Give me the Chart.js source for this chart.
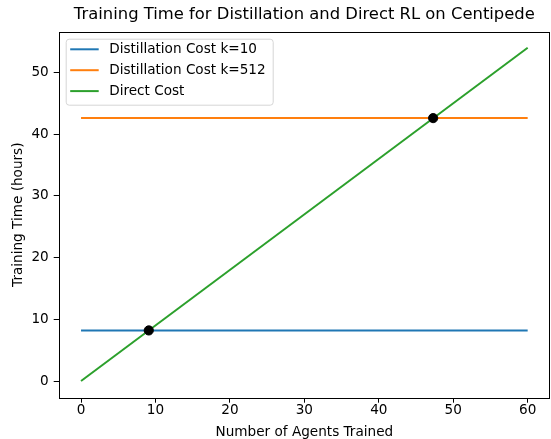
<!DOCTYPE html>
<html>
<head>
<meta charset="utf-8">
<script src="https://cdn.jsdelivr.net/npm/chart.js@4"></script>
<style>
  html, body { margin: 0; padding: 0; background: #fff; }
  #wrap { width: 551px; height: 439px; }
</style>
</head>
<body>
<div id="wrap"><canvas id="chart" width="551" height="439"></canvas></div>
<script>
'use strict';

const agents = [0, 60];
const distillK10 = [8.2, 8.2];
const distillK512 = [42.6, 42.6];
const directCost = [0, 54];
const crossings = [
  { x: 9.1, y: 8.2 },
  { x: 47.3, y: 42.6 },
];
const xTicks = [0, 10, 20, 30, 40, 50, 60];
const yTicks = [0, 10, 20, 30, 40, 50];

const FONT = "'DejaVu Sans', sans-serif";
const colors = { k10: '#1f77b4', k512: '#ff7f0e', direct: '#2ca02c' };

const toPoints = (ys) => agents.map((x, i) => ({ x, y: ys[i] }));

const frameAndLegend = {
  id: 'frameAndLegend',
  afterDraw: (chart) => {
    const { ctx, chartArea: a } = chart;
    ctx.save();
    // axes box
    ctx.strokeStyle = '#000';
    ctx.lineWidth = 1;
    ctx.strokeRect(Math.round(a.left) + 0.5, Math.round(a.top) + 0.5,
      Math.round(a.right - a.left) - 1, Math.round(a.bottom - a.top));

    // title over the axes
    ctx.fillStyle = '#000';
    ctx.font = `16.4px ${FONT}`;
    ctx.textAlign = 'center';
    ctx.textBaseline = 'middle';
    ctx.fillText('Training Time for Distillation and Direct RL on Centipede',
      (a.left + a.right) / 2, 15);

    // legend, upper left
    const items = chart.data.datasets.filter(d => d.label);
    const bx = a.left + 7.5, by = a.top + 7.5, bw = 207, bh = 66, r = 3;
    ctx.beginPath();
    ctx.roundRect(bx, by, bw, bh, r);
    ctx.fillStyle = 'rgba(255,255,255,0.8)';
    ctx.fill();
    ctx.lineWidth = 1;
    ctx.strokeStyle = '#d6d6d6';
    ctx.stroke();
    ctx.font = `13.6px ${FONT}`;
    ctx.textAlign = 'left';
    items.forEach((d, i) => {
      const y = a.top + 17.6 + i * 20.9;
      ctx.strokeStyle = d.borderColor;
      ctx.lineWidth = 2;
      ctx.beginPath();
      ctx.moveTo(a.left + 11.5, y);
      ctx.lineTo(a.left + 40, y);
      ctx.stroke();
      ctx.fillStyle = '#000';
      ctx.fillText(d.label, a.left + 50.5, y + 0.5);
    });
    ctx.restore();
  },
};

new Chart(document.getElementById('chart'), {
  type: 'line',
  data: {
    datasets: [
      {
        type: 'scatter',
        data: crossings,
        backgroundColor: '#000',
        borderColor: '#000',
        pointRadius: 4.6,
        order: 0,
      },
      {
        label: 'Distillation Cost k=10',
        data: toPoints(distillK10),
        borderColor: colors.k10,
        order: 3,
      },
      {
        label: 'Distillation Cost k=512',
        data: toPoints(distillK512),
        borderColor: colors.k512,
        order: 2,
      },
      {
        label: 'Direct Cost',
        data: toPoints(directCost),
        borderColor: colors.direct,
        order: 1,
      },
    ].map(d => d.type ? d : { ...d, borderWidth: 2, pointRadius: 0, fill: false, tension: 0 }),
  },
  options: {
    responsive: false,
    animation: false,
    events: [],
    layout: { autoPadding: false, padding: { top: 31.7, right: 1, left: 0, bottom: 0 } },
    plugins: {
      legend: { display: false },
      title: { display: false },
      tooltip: { enabled: false },
    },
    scales: {
      x: {
        type: 'linear',
        min: -3,
        max: 63,
        afterBuildTicks: (scale) => { scale.ticks = xTicks.map(value => ({ value })); },
        afterFit: (scale) => {
          scale.height = 41.3;
          scale.paddingLeft = 0;
          scale.paddingRight = 0;
        },
        ticks: { color: '#000', font: { family: FONT, size: 13.6 }, padding: 0, maxRotation: 0 },
        grid: { drawOnChartArea: false, drawTicks: true, tickLength: 5, color: '#000', lineWidth: 1 },
        border: { display: false },
        title: {
          display: true,
          text: 'Number of Agents Trained',
          color: '#000',
          font: { family: FONT, size: 13.6 },
          padding: { top: 0, bottom: -2 },
        },
      },
      y: {
        type: 'linear',
        min: -2.7,
        max: 56.6,
        afterBuildTicks: (scale) => { scale.ticks = yTicks.map(value => ({ value })); },
        afterFit: (scale) => {
          scale.width = 58.7;
          scale.paddingTop = 0;
          scale.paddingBottom = 0;
        },
        ticks: { color: '#000', font: { family: FONT, size: 13.6 }, padding: 5 },
        grid: { drawOnChartArea: false, drawTicks: true, tickLength: 5, color: '#000', lineWidth: 1 },
        border: { display: false },
        title: {
          display: true,
          text: 'Training Time (hours)',
          color: '#000',
          font: { family: FONT, size: 13.6 },
          padding: { top: 10, bottom: 0 },
        },
      },
    },
  },
  plugins: [frameAndLegend],
});
</script>
</body>
</html>
